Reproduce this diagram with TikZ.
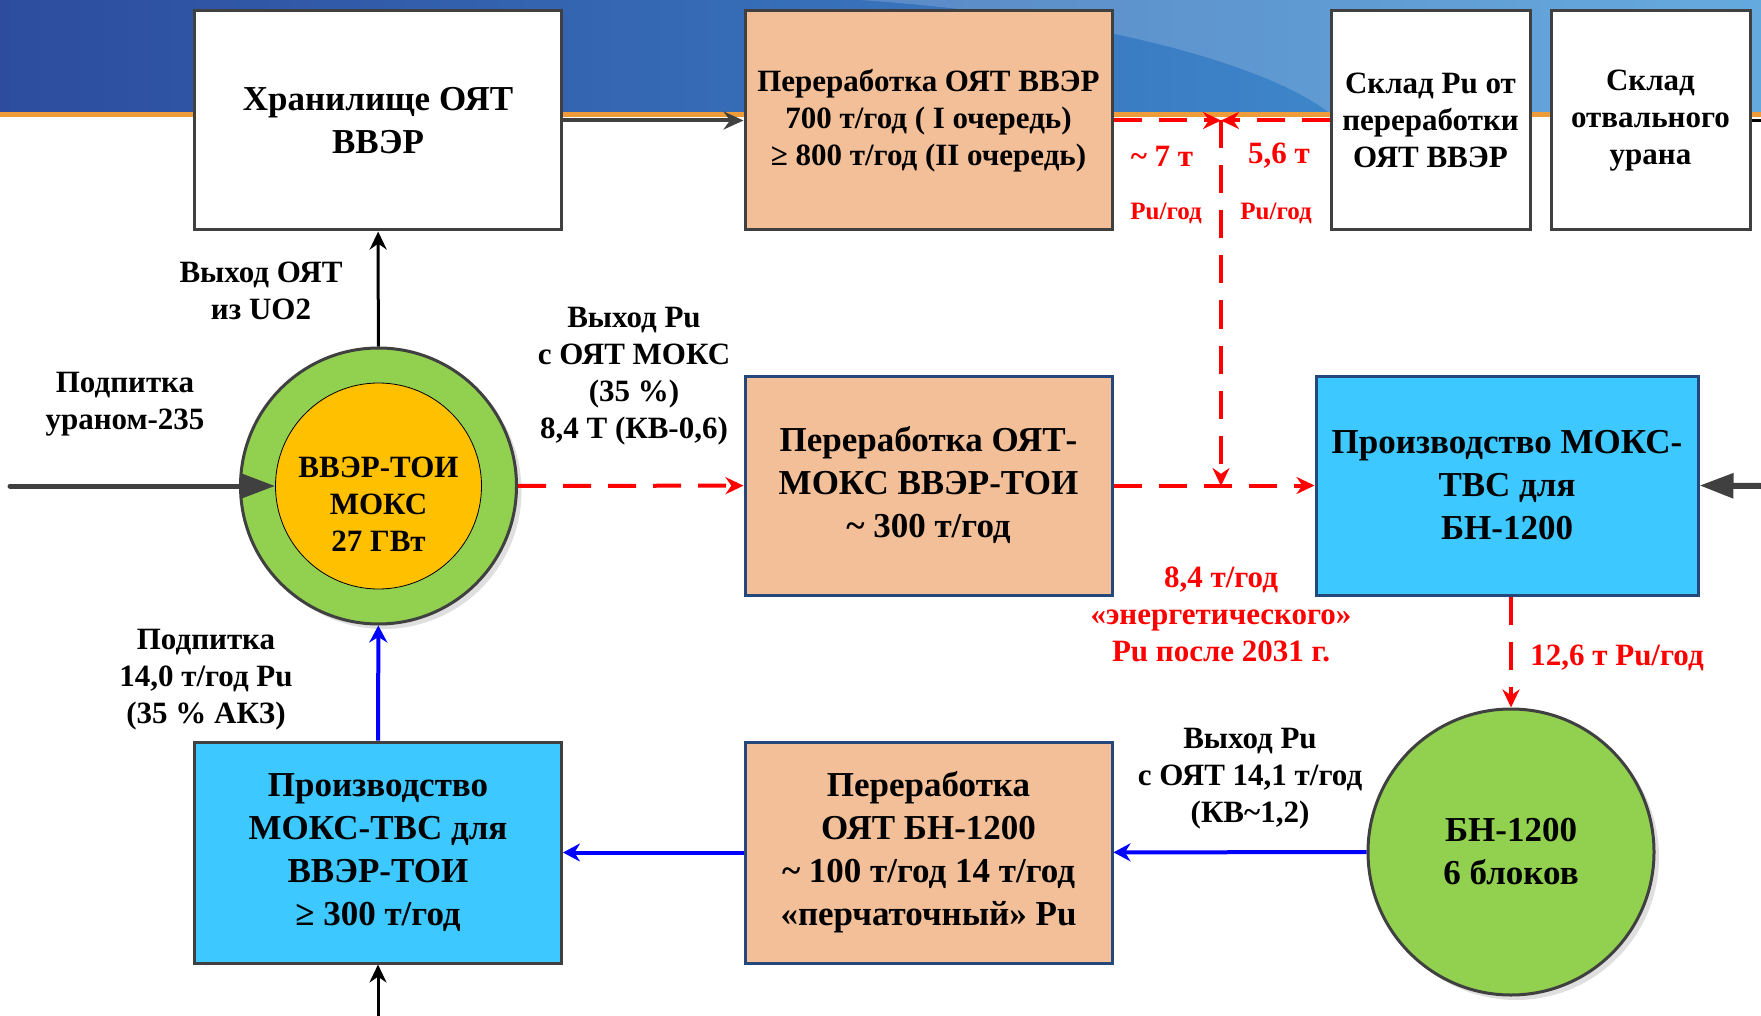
\documentclass[tikz,border=0pt]{standalone}
\usepackage{fontspec}
\setmainfont{Liberation Serif}
\usetikzlibrary{arrows.meta,shadows}

\definecolor{boxgray}{HTML}{404040}
\definecolor{boxblue}{HTML}{24487C}
\definecolor{peach}{HTML}{F2BF98}
\definecolor{cyanfill}{HTML}{3DC8FF}
\definecolor{lime}{HTML}{92D050}
\definecolor{amber}{HTML}{FFC000}
\definecolor{bannerL}{HTML}{2D4C9E}
\definecolor{bannerR}{HTML}{4398D8}
\definecolor{bannerOr}{HTML}{EE9B3A}
\definecolor{pured}{HTML}{FF0000}
\definecolor{publue}{HTML}{0000FF}

\begin{document}
\begin{tikzpicture}[x=1pt,y=-1pt,
  every node/.style={font=\bfseries\fontsize{31}{37}\selectfont,align=center,inner sep=0pt},
  big/.style={font=\bfseries\fontsize{35}{43}\selectfont},
  small/.style={font=\bfseries\fontsize{25}{30}\selectfont},
  box/.style={draw=boxgray,line width=3pt,minimum width=367pt,minimum height=219pt},
  bluebox/.style={box,draw=boxblue},
  store/.style={box,fill=white,minimum width=199pt},
  disc/.style={circle,draw=boxgray,line width=3pt,fill=lime,
    drop shadow={shadow xshift=5pt,shadow yshift=-5pt,opacity=.25}},
  feed/.style={draw=boxgray,line width=5pt,-{Triangle[length=34pt,width=24pt]}},
  spent/.style={draw=boxgray,line width=4pt,-{Stealth[length=20pt,width=18pt]}},
  ore/.style={draw=black,line width=3pt,-{Stealth[length=18pt,width=17pt]}},
  puflow/.style={draw=publue,line width=4pt,-{Stealth[length=17pt,width=18pt]}},
  pudash/.style={draw=pured,line width=4pt,dash pattern=on 28pt off 17pt,
    -{Stealth[length=18pt,width=17pt]}},
  note/.style={text=pured}
  ]
\useasboundingbox (0,0) rectangle (1761,1016);
\shade[left color=bannerL,right color=bannerR] (0,0) rectangle (1761,113);
\fill[white,opacity=.18] (860,0) .. controls (1080,15) and (1260,60) .. (1330,113) -- (1761,113) -- (1761,0) -- cycle;
\fill[bannerOr] (0,112) rectangle (1761,117);

\node[box,fill=white,big] (store) at (378,120.5) {Хранилище ОЯТ\\ВВЭР};
\node[box,fill=peach] (reprocV) at (928.5,120.5) {Переработка ОЯТ ВВЭР\\700 т/год ( I очередь)\\≥ 800 т/год (II очередь)};
\node[store] (puStore) at (1430.5,120.5) {Склад Pu от\\переработки\\ОЯТ ВВЭР};
\node[store] (uStore) at (1650.5,120.5) {Склад\\отвального\\урана};

\node[disc,minimum size=276pt] (toi) at (378.5,486) {};
\node[circle,draw=black,line width=.8pt,fill=amber,minimum size=206pt] (toiin) at (toi) {};
\node[yshift=-18pt] (toiText) at (toi) {ВВЭР-ТОИ\\МОКС\\27 ГВт};
\node[bluebox,fill=peach,big] (reprocMox) at (928.5,485.5) {Переработка ОЯТ-\\МОКС ВВЭР-ТОИ\\\textasciitilde{} 300 т/год};
\node[bluebox,fill=cyanfill,big,minimum width=382pt] (fabBN) at (1507,485.5) {Производство МОКС-\\ТВС для\\БН-1200};

\node[disc,minimum size=286pt,big] (bn) at (1511,852) {БН-1200\\6 блоков};
\node[box,fill=cyanfill,big,minimum height=221pt] (fabTOI) at (378,852.5) {Производство\\МОКС-ТВС для\\ВВЭР-ТОИ\\≥ 300 т/год};
\node[bluebox,fill=peach,big,minimum height=221pt] (reprocBN) at (928.5,852.5) {Переработка\\ОЯТ БН-1200\\\textasciitilde{} 100 т/год 14 т/год\\«перчаточный» Pu};

\node (lblOut) at (261,291) {Выход ОЯТ\\из UO2};
\node (lblFeedU) at (125,404) {Подпитка\\ураном-235};
\node (lblPuMox) at (634,376) {Выход Pu\\с ОЯТ МОКС\\(35 \%)\\8,4 Т (КВ-0,6)};
\node (lblFeedPu) at (206,680) {Подпитка\\14,0 т/год Pu\\(35 \% АКЗ)};
\node (lblPuBN) at (1250,779) {Выход Pu\\с ОЯТ 14,1 т/год\\(КВ\textasciitilde{}1,2)};
\node[note] (lblSeven) at (1162,156) {\textasciitilde{} 7 т};
\node[note,small] (lblSevenU) at (1166,213) {Pu/год};
\node[note] (lblFive) at (1279,156) {5,6 т};
\node[note,small] (lblFiveU) at (1276,213) {Pu/год};
\node[note] (lblEnergy) at (1221,614) {8,4 т/год\\«энергетического»\\Pu после 2031 г.};
\node[note] (lblTwelve) at (1617,658) {12,6 т Pu/год};

\coordinate (jn) at (1221,120.5);
\coordinate (jd) at (1221,486);
\coordinate (uIn) at (10,486);
\coordinate (mIn) at (1761,486);
\coordinate (uOut) at (1761,120.5);
\coordinate (tvsIn) at (378,1016);

\draw[spent] (store) -- (reprocV);
\draw[draw=black,line width=3pt] (uStore) -- (uOut);
\draw[ore] (toi) -- (store);
\draw[feed,line cap=round] (uIn) -- (toiin.west);
\draw[feed,line width=6pt] (mIn) -- (fabBN.east);
\draw[pudash] (toi) -- (reprocMox);
\draw[pudash] (reprocMox) -- (fabBN);
\draw[pudash] (reprocV) -- (jn);
\draw[pudash] (puStore) -- (jn);
\draw[pudash] (jn) -- (jd);
\draw[pudash] (fabBN.south -| bn) -- (bn);
\draw[puflow] (bn) -- (reprocBN);
\draw[puflow] (reprocBN) -- (fabTOI);
\draw[puflow] (fabTOI) -- (toi);
\draw[ore] (tvsIn) -- (fabTOI);
\end{tikzpicture}
\end{document}
